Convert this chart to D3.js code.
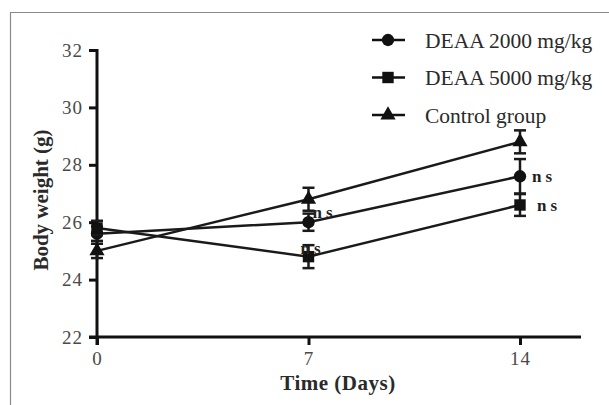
<!DOCTYPE html>
<html lang="en">
<head>
<meta charset="utf-8">
<script src="https://d3js.org/d3.v7.min.js"></script>
<style>
  body { margin: 0; background: #fff; }
</style>
</head>
<body>
<script>
// data
var days = [0, 7, 14];
var xTicks = [0, 7, 14];
var yTicks = [22, 24, 26, 28, 30, 32];
var seriesNames = ["DEAA 2000 mg/kg", "DEAA 5000 mg/kg", "Control group"];
var deaa2000 = [25.6, 26.0, 27.6];
var deaa2000Err = [0.25, 0.3, 0.6];
var deaa5000 = [25.8, 24.8, 26.6];
var deaa5000Err = [0.25, 0.4, 0.38];
var control = [25.0, 26.8, 28.8];
var controlErr = [0.25, 0.4, 0.4];
var nsMarks = [
  {day: 7, value: 26.0, dx: 4, dy: -10},
  {day: 7, value: 24.8, dx: -8, dy: -9},
  {day: 14, value: 27.6, dx: 12, dy: 0},
  {day: 14, value: 26.6, dx: 17, dy: 0}
];

var serif = "'Liberation Serif'";
var width = 609, height = 405;
var svg = d3.select("body").append("svg")
  .attr("width", width)
  .attr("height", height);

// grey frame
svg.append("path")
  .attr("d", "M10.5," + height + "V12.5H" + width)
  .attr("fill", "none")
  .attr("stroke", "#8a8a8a")
  .attr("stroke-width", 1.2);

var x = d3.scaleLinear().domain([0, 14]).range([97, 520]);
var y = d3.scaleLinear().domain([22, 32]).range([337, 50]);

// y axis
var yAxis = svg.append("g")
  .attr("transform", "translate(97,0)")
  .call(d3.axisLeft(y).tickValues(yTicks).tickSize(8).tickPadding(6));
yAxis.select(".domain").remove();
yAxis.append("line").attr("x1", 0).attr("x2", 0).attr("y1", 49).attr("y2", 345)
  .attr("stroke", "#111").attr("stroke-width", 3);
yAxis.selectAll(".tick line").attr("stroke", "#111").attr("stroke-width", 3);
yAxis.selectAll(".tick text")
  .style("font-family", serif)
  .style("font-size", "19px").style("letter-spacing", "1px")
  .attr("fill", "#4a4a4a");

// x axis
var xAxis = svg.append("g")
  .attr("transform", "translate(0,337)")
  .call(d3.axisBottom(x).tickValues(xTicks).tickSize(8).tickPadding(7));
xAxis.select(".domain").remove();
xAxis.append("line").attr("x1", 89).attr("x2", 581).attr("y1", 0).attr("y2", 0)
  .attr("stroke", "#111").attr("stroke-width", 3);
xAxis.selectAll(".tick line").attr("stroke", "#111").attr("stroke-width", 3);
xAxis.selectAll(".tick text")
  .style("font-family", serif)
  .style("font-size", "19px").style("letter-spacing", "1px")
  .attr("fill", "#4a4a4a");

// axis titles
svg.append("text")
  .attr("x", 338).attr("y", 390)
  .attr("text-anchor", "middle")
  .style("font-family", serif)
  .style("font-size", "21px").style("font-weight", "bold")
  .style("letter-spacing", "0.5px")
  .attr("fill", "#2a2a2a")
  .text("Time (Days)");
svg.append("text")
  .attr("transform", "translate(48,200) rotate(-90)")
  .attr("text-anchor", "middle")
  .style("font-family", serif)
  .style("font-size", "21px").style("font-weight", "bold")
  .attr("fill", "#2a2a2a")
  .text("Body weight (g)");

var series = [
  {name: seriesNames[0], values: deaa2000, err: deaa2000Err, shape: d3.symbolCircle, size: 120},
  {name: seriesNames[1], values: deaa5000, err: deaa5000Err, shape: d3.symbolSquare, size: 130},
  {name: seriesNames[2], values: control, err: controlErr, shape: d3.symbolTriangle, size: 100}
];

var line = d3.line()
  .x(function (d, i) { return x(days[i]); })
  .y(function (d) { return y(d); });

series.forEach(function (s) {
  var g = svg.append("g");
  g.append("path")
    .datum(s.values)
    .attr("d", line)
    .attr("fill", "none")
    .attr("stroke", "#1a1a1a")
    .attr("stroke-width", 2.5);

  // error bars
  s.values.forEach(function (v, i) {
    var cx = x(days[i]);
    var top = y(v + s.err[i]), bot = y(v - s.err[i]);
    g.append("line").attr("x1", cx).attr("x2", cx).attr("y1", top).attr("y2", bot)
      .attr("stroke", "#1a1a1a").attr("stroke-width", 2.5);
    [top, bot].forEach(function (yy) {
      g.append("line").attr("x1", cx - 6).attr("x2", cx + 6).attr("y1", yy).attr("y2", yy)
        .attr("stroke", "#1a1a1a").attr("stroke-width", 2.5);
    });
  });

  g.selectAll(".pt")
    .data(s.values)
    .enter().append("path")
    .attr("transform", function (d, i) { return "translate(" + x(days[i]) + "," + y(d) + ")"; })
    .attr("d", d3.symbol().type(s.shape).size(s.size))
    .attr("fill", "#111");
});

// ns labels
svg.selectAll(".ns")
  .data(nsMarks)
  .enter().append("text")
  .attr("x", function (d) { return x(d.day) + d.dx; })
  .attr("y", function (d) { return y(d.value) + d.dy; })
  .attr("dy", "0.35em")
  .style("font-family", serif)
  .style("font-size", "17px").style("font-weight", "bold")
  .style("letter-spacing", "4px")
  .attr("fill", "#222")
  .text("ns");

// legend
var legend = svg.append("g");
series.forEach(function (s, i) {
  var ly = 40 + i * 37.5;
  legend.append("line").attr("x1", 372).attr("x2", 405).attr("y1", ly).attr("y2", ly)
    .attr("stroke", "#111").attr("stroke-width", 2.5);
  legend.append("path")
    .attr("transform", "translate(388," + ly + ")")
    .attr("d", d3.symbol().type(s.shape).size(s.size))
    .attr("fill", "#111");
  legend.append("text")
    .attr("x", 425).attr("y", ly).attr("dy", "0.35em")
    .style("font-family", serif)
    .style("font-size", "21.5px")
    .attr("fill", "#2a2a2a")
    .text(s.name);
});
</script>
</body>
</html>
